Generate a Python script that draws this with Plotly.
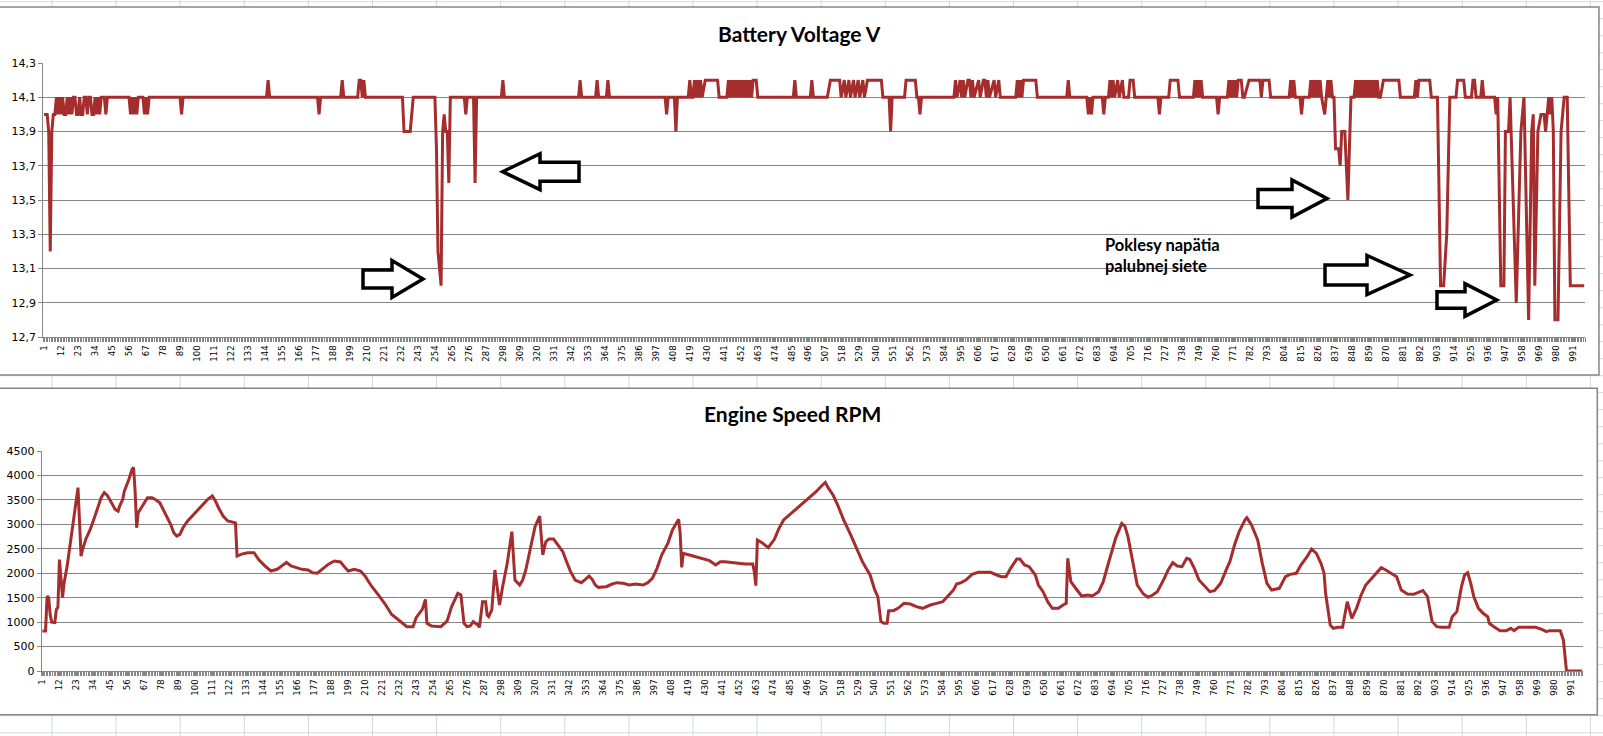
import plotly.graph_objects as go

W, H = 1603, 736
N = 998

# Battery voltage: (sample index, volts) at every change point
volt_points = [
    (1, 14.0), (3, 14.0), (4, 13.9), (5, 13.2), (6, 13.9), (7, 14.0), (8, 14.0), (9, 14.1),
    (10, 14.0), (11, 14.1), (12, 14.0), (13, 14.1), (14, 14.0), (15, 14.0), (16, 14.1), (17, 14.0),
    (18, 14.1), (19, 14.0), (20, 14.1), (21, 14.1), (22, 14.0), (23, 14.0), (24, 14.1), (25, 14.0),
    (26, 14.0), (27, 14.1), (28, 14.1), (29, 14.0), (30, 14.1), (31, 14.1), (32, 14.0), (33, 14.0),
    (34, 14.1), (35, 14.0), (36, 14.1), (37, 14.0), (38, 14.1), (40, 14.1), (41, 14.0), (42, 14.1),
    (56, 14.1), (57, 14.0), (58, 14.1), (59, 14.0), (60, 14.1), (61, 14.0), (62, 14.1), (65, 14.1),
    (66, 14.0), (67, 14.1), (68, 14.0), (69, 14.1),
    (89, 14.1), (90, 14.0), (91, 14.1),
    (145, 14.1), (146, 14.2), (147, 14.1),
    (178, 14.1), (179, 14.0), (180, 14.1),
    (193, 14.1), (194, 14.2), (195, 14.1),
    (204, 14.1), (205, 14.2), (206, 14.2), (207, 14.1), (208, 14.2), (209, 14.1),
    (233, 14.1), (234, 13.9), (238, 13.9), (240, 14.1),
    (254, 14.1), (255, 13.8), (256, 13.2), (257, 13.1), (258, 13.0), (259, 13.9), (260, 14.0),
    (261, 13.9), (262, 13.9), (263, 13.6), (264, 14.1),
    (273, 14.1), (274, 14.0), (275, 14.1), (279, 14.1), (280, 13.6), (281, 14.1),
    (297, 14.1), (298, 14.2), (299, 14.1),
    (347, 14.1), (348, 14.2), (349, 14.1), (358, 14.1), (359, 14.2), (360, 14.1),
    (365, 14.1), (366, 14.2), (367, 14.1),
    (403, 14.1), (404, 14.0), (405, 14.1), (409, 14.1), (410, 13.9), (411, 14.1),
    (418, 14.1), (419, 14.2), (420, 14.1), (421, 14.1), (422, 14.2), (423, 14.1), (424, 14.2),
    (425, 14.1), (426, 14.2), (427, 14.1), (429, 14.2), (437, 14.2), (438, 14.1), (443, 14.1),
    (444, 14.2), (445, 14.1), (446, 14.2), (447, 14.1), (448, 14.2), (449, 14.1), (450, 14.2),
    (451, 14.1), (452, 14.2), (453, 14.1), (454, 14.2), (455, 14.1), (456, 14.2), (457, 14.1),
    (458, 14.2), (459, 14.1), (460, 14.2), (462, 14.2), (463, 14.1),
    (486, 14.1), (487, 14.2), (488, 14.1), (497, 14.1), (498, 14.2), (499, 14.1),
    (508, 14.1), (510, 14.2), (516, 14.2), (517, 14.1), (519, 14.2), (520, 14.1), (522, 14.2),
    (523, 14.1), (525, 14.2), (526, 14.1), (528, 14.2), (529, 14.1), (531, 14.2), (532, 14.1),
    (534, 14.2), (536, 14.2), (543, 14.2), (544, 14.1),
    (548, 14.1), (549, 13.9), (550, 14.1),
    (558, 14.1), (559, 14.2), (565, 14.2), (566, 14.1), (567, 14.1), (568, 14.0), (569, 14.1),
    (590, 14.1), (591, 14.2), (592, 14.1), (594, 14.2), (595, 14.1), (596, 14.2), (597, 14.1),
    (599, 14.2), (600, 14.2), (601, 14.1), (602, 14.2), (603, 14.1), (606, 14.2), (607, 14.1),
    (609, 14.2), (610, 14.2), (611, 14.1), (612, 14.2), (613, 14.1), (616, 14.2), (617, 14.1),
    (619, 14.2), (620, 14.1),
    (630, 14.1), (631, 14.2), (632, 14.1), (633, 14.2), (634, 14.1), (635, 14.2), (637, 14.2),
    (643, 14.2), (644, 14.1),
    (663, 14.1), (664, 14.2), (665, 14.1),
    (676, 14.1), (677, 14.0), (678, 14.1), (679, 14.0), (680, 14.1),
    (686, 14.1), (687, 14.0), (688, 14.1),
    (690, 14.1), (691, 14.2), (692, 14.1), (693, 14.2), (694, 14.1), (696, 14.2), (697, 14.1),
    (699, 14.2), (700, 14.1), (703, 14.1), (704, 14.2), (706, 14.2), (707, 14.1),
    (722, 14.1), (723, 14.0), (724, 14.1),
    (729, 14.1), (730, 14.2), (735, 14.2), (736, 14.1),
    (745, 14.1), (746, 14.2), (747, 14.1), (748, 14.2), (749, 14.1), (750, 14.2), (751, 14.1),
    (760, 14.1), (761, 14.0), (762, 14.1),
    (767, 14.1), (768, 14.2), (769, 14.1), (770, 14.2), (771, 14.1), (772, 14.2), (773, 14.1),
    (774, 14.2), (776, 14.2), (777, 14.1), (778, 14.1), (781, 14.2), (788, 14.2), (789, 14.1),
    (790, 14.2), (794, 14.2), (795, 14.1),
    (807, 14.1), (808, 14.2), (809, 14.1), (810, 14.2), (811, 14.1),
    (814, 14.1), (815, 14.0), (816, 14.1),
    (820, 14.1), (821, 14.2), (822, 14.1), (823, 14.2), (824, 14.1), (825, 14.2), (826, 14.1),
    (827, 14.2), (828, 14.1), (830, 14.0), (831, 14.1), (832, 14.2), (833, 14.1), (834, 14.2),
    (835, 14.1), (836, 14.1), (837, 13.8), (839, 13.8), (840, 13.7), (841, 13.9), (843, 13.9),
    (845, 13.5), (847, 14.1),
    (849, 14.1), (850, 14.2), (851, 14.1), (852, 14.2), (853, 14.1), (854, 14.2), (855, 14.1),
    (856, 14.2), (857, 14.1), (858, 14.2), (859, 14.1), (860, 14.2), (861, 14.1), (862, 14.2),
    (863, 14.1), (864, 14.2), (865, 14.1), (866, 14.1), (868, 14.2), (878, 14.2), (879, 14.1),
    (888, 14.1), (889, 14.2), (890, 14.1), (891, 14.2), (898, 14.2), (899, 14.1),
    (903, 14.1), (905, 13.0), (907, 13.0), (909, 13.3), (911, 14.1),
    (915, 14.1), (916, 14.2), (920, 14.2), (921, 14.1), (925, 14.1), (926, 14.2), (927, 14.2),
    (928, 14.1), (931, 14.1), (932, 14.2), (933, 14.1),
    (940, 14.1), (941, 14.0), (942, 14.1), (944, 13.0), (946, 13.0), (947, 13.9), (949, 13.9),
    (950, 14.1), (954, 12.9), (957, 13.9), (959, 14.1), (962, 12.8), (964, 13.9), (965, 14.0),
    (966, 13.0), (968, 13.9), (970, 14.0), (972, 14.0), (973, 13.9), (975, 14.1), (976, 14.0),
    (977, 14.1), (978, 13.9), (979, 12.8), (981, 12.8), (983, 13.9), (985, 14.1), (987, 14.1),
    (989, 13.0), (998, 13.0),
]

# Engine speed: (sample index, rpm)
rpm_points = [
    (1, 820), (3, 820), (4, 1530), (5, 1500), (6, 1150), (7, 1000), (9, 990), (10, 1260), (11, 1300),
    (12, 2280), (14, 1500), (15, 1800), (17, 2150), (19, 2620), (21, 3000), (23, 3510), (24, 3750),
    (26, 2350), (27, 2490), (29, 2690), (32, 2900), (35, 3170), (37, 3375), (39, 3545), (41, 3650),
    (43, 3590), (45, 3480), (47, 3375), (48, 3310), (50, 3270), (51, 3375), (53, 3510), (54, 3680),
    (57, 3920), (59, 4125), (60, 4160), (61, 3680), (62, 2930), (63, 3240), (65, 3340), (67, 3440),
    (69, 3545), (72, 3545), (74, 3510), (77, 3440), (79, 3310), (81, 3170), (84, 3000), (86, 2830),
    (88, 2760), (90, 2795), (92, 2930), (95, 3070), (99, 3200), (102, 3310), (105, 3410), (108, 3510),
    (111, 3580), (113, 3480), (115, 3340), (118, 3170), (121, 3070), (126, 3030), (127, 2350),
    (130, 2390), (134, 2420), (138, 2420), (141, 2280), (145, 2150), (149, 2045), (153, 2080),
    (156, 2150), (159, 2220), (162, 2150), (166, 2115), (169, 2080), (173, 2065), (176, 2010),
    (179, 2000), (182, 2080), (186, 2180), (190, 2250), (194, 2230), (197, 2115), (199, 2045),
    (203, 2080), (207, 2045), (210, 1940), (214, 1740), (219, 1535), (223, 1365), (227, 1160),
    (231, 1060), (235, 975), (237, 907), (241, 907), (243, 1090), (247, 1260), (249, 1465), (250, 975),
    (253, 920), (259, 907), (263, 1020), (266, 1316), (270, 1589), (272, 1555), (274, 975), (276, 907),
    (278, 920), (280, 1009), (283, 941), (284, 893), (286, 1418), (288, 1418), (289, 1145), (290, 1111),
    (292, 1248), (294, 2066), (297, 1350), (299, 1725), (302, 2202), (305, 2850), (307, 1861),
    (310, 1759), (312, 1861), (314, 2066), (316, 2339), (318, 2680), (320, 2952), (323, 3170),
    (324, 2816), (325, 2373), (327, 2645), (329, 2700), (332, 2700), (334, 2611), (338, 2441),
    (340, 2270), (343, 2032), (346, 1861), (350, 1807), (352, 1861), (355, 1943), (357, 1875),
    (359, 1759), (361, 1711), (366, 1725), (370, 1779), (373, 1807), (377, 1793), (381, 1759),
    (385, 1779), (390, 1759), (393, 1807), (396, 1895), (399, 2100), (402, 2373), (406, 2611),
    (409, 2884), (413, 3102), (414, 2816), (415, 2120), (416, 2407), (420, 2373), (424, 2339),
    (428, 2304), (433, 2257), (437, 2168), (440, 2236), (443, 2236), (448, 2216), (452, 2202),
    (456, 2189), (461, 2189), (462, 2032), (463, 1745), (464, 2680), (467, 2625), (471, 2523),
    (475, 2693), (478, 2918), (481, 3089), (484, 3170), (489, 3314), (493, 3416), (497, 3532),
    (502, 3668), (505, 3770), (508, 3859), (510, 3740), (513, 3600), (516, 3395), (520, 3080),
    (524, 2816), (528, 2509), (532, 2236), (537, 1964), (540, 1657), (542, 1520), (544, 1009),
    (546, 975), (548, 975), (549, 1234), (552, 1234), (555, 1282), (559, 1384), (563, 1370),
    (567, 1316), (571, 1282), (576, 1350), (580, 1384), (584, 1418), (587, 1520), (591, 1657),
    (593, 1780), (596, 1807), (599, 1861), (603, 1977), (607, 2018), (611, 2018), (615, 2018),
    (619, 1964), (622, 1930), (625, 1930), (628, 2100), (632, 2291), (634, 2291), (637, 2168),
    (640, 2134), (644, 1964), (646, 1759), (649, 1623), (652, 1418), (655, 1282), (659, 1282),
    (662, 1350), (664, 1384), (665, 2304), (667, 1827), (671, 1657), (674, 1534), (678, 1555),
    (681, 1534), (685, 1623), (688, 1827), (691, 2168), (693, 2407), (696, 2714), (700, 3020),
    (702, 2966), (704, 2748), (707, 2270), (710, 1759), (714, 1575), (717, 1507), (720, 1555),
    (723, 1623), (727, 1861), (730, 2066), (733, 2216), (736, 2148), (739, 2134), (742, 2304),
    (744, 2284), (747, 2100), (750, 1861), (754, 1725), (757, 1623), (760, 1643), (764, 1793),
    (768, 2100), (770, 2236), (773, 2577), (776, 2850), (780, 3102), (781, 3136), (784, 2986),
    (788, 2680), (791, 2202), (794, 1793), (797, 1657), (800, 1677), (802, 1691), (806, 1930),
    (809, 1977), (813, 1998), (816, 2168), (820, 2339), (823, 2495), (826, 2407), (829, 2202),
    (831, 1998), (832, 1589), (835, 941), (837, 873), (840, 893), (843, 893), (846, 1418), (849, 1077),
    (852, 1282), (855, 1555), (858, 1759), (862, 1895), (865, 1998), (868, 2114), (871, 2066),
    (875, 1998), (878, 1930), (881, 1657), (885, 1575), (889, 1568), (892, 1609), (895, 1643),
    (898, 1520), (901, 1009), (904, 907), (907, 893), (912, 893), (914, 1111), (917, 1214),
    (920, 1725), (922, 1964), (924, 2011), (926, 1793), (928, 1520), (931, 1282), (934, 1180),
    (937, 1111), (938, 975), (941, 907), (945, 825), (949, 825), (952, 873), (954, 825), (957, 893),
    (962, 893), (968, 893), (972, 852), (975, 805), (977, 825), (984, 825), (986, 634), (988, 0),
    (998, 0),
]

volt_x = [p[0] for p in volt_points]
volt_y = [p[1] for p in volt_points]
rpm_x = [p[0] for p in rpm_points]
rpm_y = [p[1] for p in rpm_points]

volt_ticks = [12.7, 12.9, 13.1, 13.3, 13.5, 13.7, 13.9, 14.1, 14.3]
volt_labels = ["12,7", "12,9", "13,1", "13,3", "13,5", "13,7", "13,9", "14,1", "14,3"]
rpm_ticks = [0, 500, 1000, 1500, 2000, 2500, 3000, 3500, 4000, 4500]
cat_ticks = list(range(1, N + 1, 11))

title_top = "Battery Voltage V"
title_bottom = "Engine Speed RPM"
note_text = "Poklesy napätia<br>palubnej siete"

line_color = "#A52D2D"
grid_color = "#868686"
cell_color = "#D0D7E5"


def fx(x):
    return x / W


def fy(y):
    return 1 - y / H


def arrow_path(x0, tip, xb, cy, bh, hh):
    pts = [(x0, cy - bh), (xb, cy - bh), (xb, cy - hh), (tip, cy),
           (xb, cy + hh), (xb, cy + bh), (x0, cy + bh)]
    return "M " + " L ".join("{:.5f},{:.5f}".format(fx(a), fy(b)) for a, b in pts) + " Z"


fig = go.Figure()

fig.add_trace(go.Scatter(x=volt_x, y=volt_y, mode="lines", xaxis="x", yaxis="y",
                         line=dict(color=line_color, width=3), showlegend=False))
fig.add_trace(go.Scatter(x=rpm_x, y=rpm_y, mode="lines", xaxis="x2", yaxis="y2",
                         line=dict(color=line_color, width=3), showlegend=False))

xaxis_style = dict(
    range=[0.5, N + 0.5], tickmode="array", tickvals=cat_ticks, ticktext=[str(t) for t in cat_ticks],
    tickangle=-90, tickfont=dict(family="DejaVu Sans", size=8.5, color="black"),
    showgrid=False, zeroline=False, showline=True, linecolor=grid_color, linewidth=1,
    ticks="outside", ticklen=4, tickcolor=grid_color, tickwidth=1,
    minor=dict(ticks="outside", tickmode="linear", tick0=0.5, dtick=1, ticklen=4,
               tickcolor=grid_color, tickwidth=1, showgrid=False),
)
yaxis_style = dict(
    showgrid=True, gridcolor=grid_color, gridwidth=1, zeroline=False,
    showline=True, linecolor=grid_color, linewidth=1,
    ticks="outside", ticklen=4, tickcolor=grid_color,
    tickfont=dict(family="DejaVu Sans", size=11, color="black"),
)

fig.update_layout(
    width=W, height=H,
    margin=dict(l=0, r=0, t=0, b=0, autoexpand=False),
    paper_bgcolor="white", plot_bgcolor="rgba(0,0,0,0)",
    xaxis=dict(domain=[fx(43.3), fx(1585)], anchor="y", **xaxis_style),
    yaxis=dict(domain=[fy(337), fy(63)], anchor="x", range=[12.7, 14.3],
               tickmode="array", tickvals=volt_ticks, ticktext=volt_labels, **yaxis_style),
    xaxis2=dict(domain=[fx(41.7), fx(1582.7)], anchor="y2", **xaxis_style),
    yaxis2=dict(domain=[fy(671), fy(451)], anchor="x2", range=[0, 4500],
                tickmode="array", tickvals=rpm_ticks, **yaxis_style),
)

shapes = []
# worksheet cell grid behind the charts
for k in range(26):
    cx = 52 + 64.1 * k
    shapes.append(dict(type="line", xref="paper", yref="paper", x0=fx(cx), x1=fx(cx), y0=0, y1=1,
                       line=dict(color=cell_color, width=1), layer="below"))
for k in range(44):
    cy = 1.7 + 17 * k
    shapes.append(dict(type="line", xref="paper", yref="paper", x0=0, x1=1, y0=fy(cy), y1=fy(cy),
                       line=dict(color=cell_color, width=1), layer="below"))
# chart frames
shapes.append(dict(type="rect", xref="paper", yref="paper", x0=fx(-5), x1=fx(1599), y0=fy(375), y1=fy(7),
                   fillcolor="white", line=dict(color=grid_color, width=1.5), layer="below"))
shapes.append(dict(type="rect", xref="paper", yref="paper", x0=fx(-5), x1=fx(1597.3), y0=fy(714.7), y1=fy(388.3),
                   fillcolor="white", line=dict(color=grid_color, width=1.5), layer="below"))

# hand drawn block arrows
arrows = [
    (363, 423, 392, 279, 9, 18.5),
    (579, 502.7, 540, 171.7, 9.5, 18),
    (1258, 1327, 1292, 198.5, 9, 18.5),
    (1325, 1410, 1367, 275, 10, 19.5),
    (1437, 1496.7, 1465, 300, 8.3, 16.3),
]
for a in arrows:
    shapes.append(dict(type="path", xref="paper", yref="paper", path=arrow_path(*a),
                       fillcolor="white", line=dict(color="black", width=3.5), layer="above"))
fig.update_layout(shapes=shapes)

fig.add_annotation(x=fx(799), y=fy(33), xref="paper", yref="paper", text=title_top, showarrow=False,
                   xanchor="center", yanchor="middle",
                   font=dict(family="Lato", size=21, color="black", weight="bold"))
fig.add_annotation(x=fx(792), y=fy(413), xref="paper", yref="paper", text=title_bottom, showarrow=False,
                   xanchor="center", yanchor="middle",
                   font=dict(family="Lato", size=21, color="black", weight="bold"))
fig.add_annotation(x=fx(1103), y=fy(255), xref="paper", yref="paper", text=note_text, showarrow=False,
                   xanchor="left", yanchor="middle", align="left",
                   font=dict(family="Lato", size=16.5, color="black", weight="bold"))

fig.write_html("out.html", config={"displayModeBar": False},
               post_script="document.body.style.margin='0';")
